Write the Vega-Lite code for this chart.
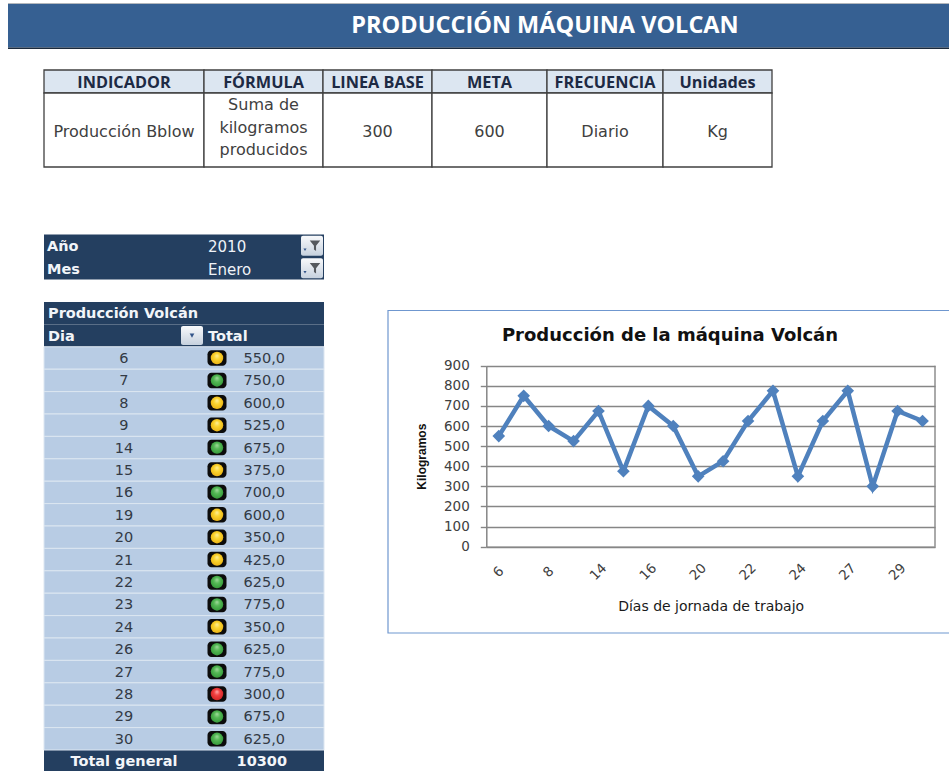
{
"$schema":"https://vega.github.io/schema/vega-lite/v6.json",
"width":949,"height":771,"padding":0,"autosize":{"type":"none"},"background":"white",
"config":{"view":{"stroke":null},"font":"DejaVu Sans","locale":{"number":{"decimal":",","thousands":".","grouping":[3],"currency":["","€"]}}},
"datasets":{
"prod":[{"dia":"6","total":550},{"dia":"7","total":750},{"dia":"8","total":600},{"dia":"9","total":525},{"dia":"14","total":675},{"dia":"15","total":375},{"dia":"16","total":700},{"dia":"19","total":600},{"dia":"20","total":350},{"dia":"21","total":425},{"dia":"22","total":625},{"dia":"23","total":775},{"dia":"24","total":350},{"dia":"26","total":625},{"dia":"27","total":775},{"dia":"28","total":300},{"dia":"29","total":675},{"dia":"30","total":625}],
"ficha":[{"a":0,"b":1,"m":0.5,"fila":2.58,"h":"INDICADOR","t":"Producción Bblow"},{"a":1,"b":2,"m":1.5,"fila":1.49,"h":"FÓRMULA","t":"Suma de\nkilogramos\nproducidos"},{"a":2,"b":3,"m":2.5,"fila":2.58,"h":"LINEA BASE","t":"300"},{"a":3,"b":4,"m":3.5,"fila":2.58,"h":"META","t":"600"},{"a":4,"b":5,"m":4.5,"fila":2.58,"h":"FRECUENCIA","t":"Diario"},{"a":5,"b":6,"m":5.5,"fila":2.58,"h":"Unidades","t":"Kg"}],
"filtros":[{"campo":"Año","valor":"2010"},{"campo":"Mes","valor":"Enero"}]
},
"resolve":{"scale":{"x":"independent","y":"independent"},"axis":{"x":"independent","y":"independent"}},
"layer":[
{"data":{"values":[{"p":"borde","a":0,"b":1},{"p":"banda","a":1,"b":2},{"p":"linea","a":2,"b":3}]},
 "layer":[
 {"mark":{"type":"rect"},"encoding":{
  "x":{"datum":0,"type":"quantitative","axis":null,"scale":{"domain":[0,1,2],"range":[8,545,949]}},"x2":{"datum":2},
  "y":{"field":"a","type":"quantitative","axis":null,"scale":{"domain":[0,1,2,3],"range":[3,4,47.5,49]}},"y2":{"field":"b"},
  "color":{"field":"p","type":"nominal","legend":null,"scale":{"domain":["borde","banda","linea"],"range":["#b3b7bc","#366092","#1b2a3c"]}}}},
 {"transform":[{"filter":"datum.p==='banda'"}],"mark":{"type":"text","text":"PRODUCCIÓN MÁQUINA VOLCAN","font":"Open Sans","fontWeight":"bold","fontSize":23.5,"fill":"#ffffff","baseline":"middle"},"encoding":{
  "x":{"datum":1,"type":"quantitative","axis":null},"y":{"datum":1.5,"type":"quantitative","axis":null}}}
 ]},
{"data":{"name":"ficha"},
 "layer":[
 {"mark":{"type":"rect","fill":"#dce6f1","stroke":"#404040","strokeWidth":1.3},"encoding":{
  "x":{"field":"a","type":"quantitative","axis":null,"scale":{"domain":[0,1,2,3,4,5,6],"range":[44,204,323,432,547,663,772]}},"x2":{"field":"b"},
  "y":{"datum":0,"type":"quantitative","axis":null,"scale":{"domain":[0,1,4],"range":[70,93,167]}},"y2":{"datum":1}}},
 {"mark":{"type":"rect","fill":"#ffffff","stroke":"#404040","strokeWidth":1.3},"encoding":{
  "x":{"field":"a","type":"quantitative","axis":null},"x2":{"field":"b"},
  "y":{"datum":1,"type":"quantitative","axis":null},"y2":{"datum":4}}},
 {"mark":{"type":"text","font":"Open Sans","fontWeight":"bold","fontSize":16.3,"fill":"#1d2a44","baseline":"middle","dy":1.5},"encoding":{
  "x":{"field":"m","type":"quantitative","axis":null},"y":{"datum":0.5,"type":"quantitative","axis":null},"text":{"field":"h"}}},
 {"mark":{"type":"text","fontSize":16,"fill":"#404040","baseline":"middle","lineBreak":"\n","lineHeight":22.5},"encoding":{
  "x":{"field":"m","type":"quantitative","axis":null},"y":{"field":"fila","type":"quantitative","axis":null},"text":{"field":"t"}}}
 ]},
{"data":{"name":"filtros"},
 "layer":[
 {"mark":{"type":"rect","fill":"#243f60"},"encoding":{
  "x":{"datum":0,"type":"quantitative","axis":null,"scale":{"domain":[0,1,2,3],"range":[44,208,312,324]}},"x2":{"datum":3},
  "y":{"field":"campo","type":"nominal","axis":null,"scale":{"type":"band","domain":["Año","Mes"],"range":[234.5,279.5],"paddingInner":0,"paddingOuter":0}}}},
 {"mark":{"type":"text","fontWeight":"bold","fontSize":14.5,"fill":"#f2f5f9","align":"left","baseline":"middle","dx":3,"dy":1.5},"encoding":{
  "x":{"datum":0,"type":"quantitative","axis":null},"y":{"field":"campo","type":"nominal","axis":null},"text":{"field":"campo"}}},
 {"mark":{"type":"text","fontSize":15,"fill":"#eef2f7","align":"left","baseline":"middle","dy":1.5},"encoding":{
  "x":{"datum":1,"type":"quantitative","axis":null},"y":{"field":"campo","type":"nominal","axis":null},"text":{"field":"valor"}}},
 {"mark":{"type":"rect","width":22,"height":20,"cornerRadius":2,"fill":{"gradient":"linear","x1":0,"y1":0,"x2":0,"y2":1,"stops":[{"offset":0,"color":"#f8f9fb"},{"offset":1,"color":"#c6d1de"}]}},"encoding":{
  "x":{"datum":2,"type":"quantitative","axis":null},"y":{"field":"campo","type":"nominal","axis":null}}},
 {"mark":{"type":"point","filled":true,"fill":"#55595e","opacity":1,"size":110,"shape":"M-1,-1L1,-1L0.2,0L0.2,1L-0.2,0.7L-0.2,0Z","xOffset":3},"encoding":{
  "x":{"datum":2,"type":"quantitative","axis":null},"y":{"field":"campo","type":"nominal","axis":null}}},
 {"mark":{"type":"point","filled":true,"fill":"#33558a","opacity":1,"size":10,"shape":"triangle-down","xOffset":-7,"yOffset":4},"encoding":{
  "x":{"datum":2,"type":"quantitative","axis":null},"y":{"field":"campo","type":"nominal","axis":null}}}
 ]},
{"data":{"name":"prod"},
 "layer":[
 {"data":{"values":[{"dia":"titulo"},{"dia":"cabecera"},{"dia":"total"}]},"mark":{"type":"rect","fill":"#243f60"},"encoding":{
  "x":{"datum":0,"type":"quantitative","axis":null,"scale":{"domain":[0,1,2,3,4,5],"range":[44,192,204,217,285,324]}},"x2":{"datum":5},
  "y":{"field":"dia","type":"nominal","axis":null,"scale":{"type":"band","domain":["titulo","cabecera","6","7","8","9","14","15","16","19","20","21","22","23","24","26","27","28","29","30","total"],"range":[302,772.4],"paddingInner":0,"paddingOuter":0}}}},
 {"mark":{"type":"rect","fill":"#b8cce4","stroke":"#dce6f1","strokeWidth":1},"encoding":{
  "x":{"datum":0,"type":"quantitative","axis":null},"x2":{"datum":5},
  "y":{"field":"dia","type":"nominal","axis":null}}},
 {"mark":{"type":"text","fontSize":14.5,"fill":"#333a45","baseline":"middle","dy":1},"encoding":{
  "x":{"datum":0.54,"type":"quantitative","axis":null},"y":{"field":"dia","type":"nominal","axis":null},"text":{"field":"dia"}}},
 {"mark":{"type":"rect","width":19,"height":15.5,"cornerRadius":4,"fill":"#0c0c0c"},"encoding":{
  "x":{"datum":3,"type":"quantitative","axis":null},"y":{"field":"dia","type":"nominal","axis":null}}},
 {"transform":[{"filter":"datum.total>600"}],"mark":{"type":"point","shape":"circle","filled":true,"opacity":1,"size":155,"fill":{"gradient":"radial","x1":0.5,"y1":0.3,"x2":0.5,"y2":0.5,"r1":0,"r2":0.6,"stops":[{"offset":0,"color":"#a5dc9f"},{"offset":0.4,"color":"#55b855"},{"offset":1,"color":"#2f9435"}]}},"encoding":{
  "x":{"datum":3,"type":"quantitative","axis":null},"y":{"field":"dia","type":"nominal","axis":null}}},
 {"transform":[{"filter":"datum.total>300 && datum.total<=600"}],"mark":{"type":"point","shape":"circle","filled":true,"opacity":1,"size":155,"fill":{"gradient":"radial","x1":0.5,"y1":0.3,"x2":0.5,"y2":0.5,"r1":0,"r2":0.6,"stops":[{"offset":0,"color":"#fff0a0"},{"offset":0.4,"color":"#fbd52f"},{"offset":1,"color":"#e8ad10"}]}},"encoding":{
  "x":{"datum":3,"type":"quantitative","axis":null},"y":{"field":"dia","type":"nominal","axis":null}}},
 {"transform":[{"filter":"datum.total<=300"}],"mark":{"type":"point","shape":"circle","filled":true,"opacity":1,"size":155,"fill":{"gradient":"radial","x1":0.5,"y1":0.3,"x2":0.5,"y2":0.5,"r1":0,"r2":0.6,"stops":[{"offset":0,"color":"#ffb0b0"},{"offset":0.4,"color":"#f04040"},{"offset":1,"color":"#cc2020"}]}},"encoding":{
  "x":{"datum":3,"type":"quantitative","axis":null},"y":{"field":"dia","type":"nominal","axis":null}}},
 {"mark":{"type":"text","fontSize":14.5,"fill":"#333a45","align":"right","baseline":"middle","dy":1},"encoding":{
  "x":{"datum":4,"type":"quantitative","axis":null},"y":{"field":"dia","type":"nominal","axis":null},"text":{"field":"total","type":"quantitative","format":".1f"}}},
 {"data":{"values":[{"dia":"titulo","t":"Producción Volcán"},{"dia":"cabecera","t":"Dia"}]},"mark":{"type":"text","fontWeight":"bold","fontSize":14.5,"fill":"#f2f5f9","align":"left","baseline":"middle","dx":4,"dy":1},"encoding":{
  "x":{"datum":0,"type":"quantitative","axis":null},"y":{"field":"dia","type":"nominal","axis":null},"text":{"field":"t"}}},
 {"data":{"values":[{"dia":"cabecera","t":"Total"}]},"mark":{"type":"text","fontWeight":"bold","fontSize":14.5,"fill":"#f2f5f9","align":"left","baseline":"middle","dx":4,"dy":1},"encoding":{
  "x":{"datum":2,"type":"quantitative","axis":null},"y":{"field":"dia","type":"nominal","axis":null},"text":{"field":"t"}}},
 {"data":{"values":[{"dia":"cabecera"}]},"mark":{"type":"rect","width":22,"height":19,"cornerRadius":2,"fill":{"gradient":"linear","x1":0,"y1":0,"x2":0,"y2":1,"stops":[{"offset":0,"color":"#f8f9fb"},{"offset":1,"color":"#c6d1de"}]}},"encoding":{
  "x":{"datum":1,"type":"quantitative","axis":null},"y":{"field":"dia","type":"nominal","axis":null}}},
 {"data":{"values":[{"dia":"cabecera"}]},"mark":{"type":"point","filled":true,"fill":"#33558a","opacity":1,"size":22,"shape":"triangle-down"},"encoding":{
  "x":{"datum":1,"type":"quantitative","axis":null},"y":{"field":"dia","type":"nominal","axis":null}}},
 {"data":{"values":[{"dia":"total","t":"Total general"}]},"mark":{"type":"text","fontWeight":"bold","fontSize":14.5,"fill":"#f2f5f9","baseline":"middle","dy":1},"encoding":{
  "x":{"datum":0.54,"type":"quantitative","axis":null},"y":{"field":"dia","type":"nominal","axis":null},"text":{"field":"t"}}},
 {"data":{"values":[{"dia":"total","t":"10300"}]},"mark":{"type":"text","fontWeight":"bold","fontSize":14.5,"fill":"#f2f5f9","align":"right","baseline":"middle","dx":2,"dy":1},"encoding":{
  "x":{"datum":4,"type":"quantitative","axis":null},"y":{"field":"dia","type":"nominal","axis":null},"text":{"field":"t"}}}
 ]},
{"data":{"values":[{"t":"Producción de la máquina Volcán"}]},
 "layer":[
 {"mark":{"type":"rect","fill":"transparent","stroke":"#6f97cf","strokeWidth":1.2},"encoding":{
  "x":{"datum":0,"type":"quantitative","axis":null,"scale":{"domain":[0,1,2],"range":[388,670,970]}},"x2":{"datum":2},
  "y":{"datum":0,"type":"quantitative","axis":null,"scale":{"domain":[0,1,2],"range":[310.5,335,633]}},"y2":{"datum":2}}},
 {"mark":{"type":"text","fontWeight":"bold","fontSize":18,"fill":"#111111","baseline":"middle","dy":1},"encoding":{
  "x":{"datum":1,"type":"quantitative","axis":null},"y":{"datum":1,"type":"quantitative","axis":null},"text":{"field":"t"}}}
 ]},
{"data":{"values":[{"dia":"30","a":0,"b":900}]},"mark":{"type":"rule","stroke":"#868686","strokeWidth":1.4},"encoding":{
  "x":{"field":"dia","type":"nominal","bandPosition":1,"scale":{"type":"band","domain":["6","7","8","9","14","15","16","19","20","21","22","23","24","26","27","28","29","30"],"range":[486.3,935],"paddingInner":0,"paddingOuter":0},
   "axis":{"orient":"bottom","offset":-224.3,"values":["6","8","14","16","20","22","24","27","29"],"ticks":false,"grid":false,"domainColor":"#868686","domainWidth":1.5,"labelAngle":-45,"labelAlign":"center","labelBaseline":"middle","labelPadding":25,"labelFontSize":13.5,"labelColor":"#404040","title":"Días de jornada de trabajo","titleFontSize":14,"titleFontWeight":"normal","titleColor":"#1a1a1a","titlePadding":17}},
  "y":{"field":"a","type":"quantitative","scale":{"domain":[0,900],"range":[546.7,365.7]},
   "axis":{"orient":"left","offset":-486.3,"values":[0,100,200,300,400,500,600,700,800,900],"grid":true,"gridColor":"#868686","gridWidth":1.4,"domainColor":"#868686","domainWidth":1.5,"tickColor":"#868686","tickSize":6,"tickWidth":1.4,"labelPadding":11,"labelFontSize":13.5,"labelColor":"#404040","title":"Kilogramos","titleFont":"Liberation Sans","titleFontSize":12,"titleFontWeight":"bold","titleColor":"#111111","titlePadding":15}},
  "y2":{"field":"b"}}},
{"data":{"name":"prod"},
 "layer":[
 {"mark":{"type":"line","stroke":"#4f81bd","strokeWidth":4.5},"encoding":{
  "x":{"field":"dia","type":"nominal","sort":null,"axis":null,"scale":{"type":"band","domain":["6","7","8","9","14","15","16","19","20","21","22","23","24","26","27","28","29","30"],"range":[486.3,935],"paddingInner":0,"paddingOuter":0}},
  "y":{"field":"total","type":"quantitative","axis":null,"scale":{"domain":[0,900],"range":[546.7,365.7]}}}},
 {"mark":{"type":"point","shape":"diamond","filled":true,"opacity":1,"fill":"#4f81bd","size":160},"encoding":{
  "x":{"field":"dia","type":"nominal","sort":null,"axis":null},"y":{"field":"total","type":"quantitative","axis":null}}}
 ]}
]
}
